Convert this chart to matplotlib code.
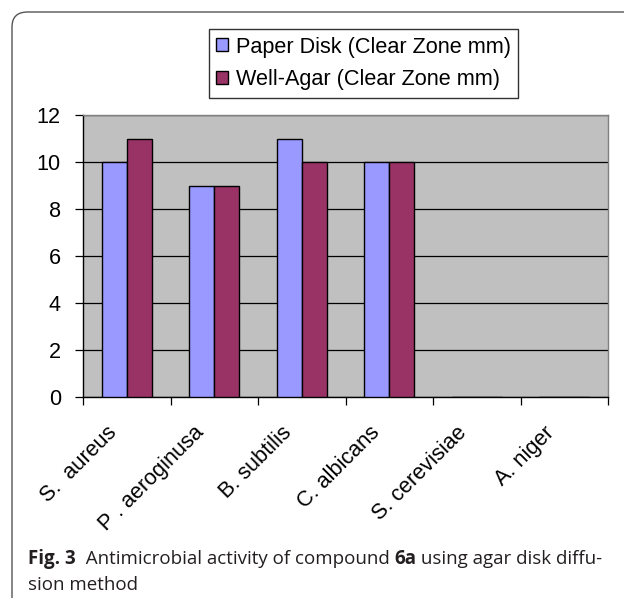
import matplotlib
matplotlib.use("Agg")
import matplotlib.pyplot as plt
import matplotlib.transforms as mtransforms
import numpy as np
from matplotlib.patches import FancyBboxPatch

plt.rcParams["font.family"] = ["Liberation Sans", "DejaVu Sans"]

# zone of inhibition (mm) per organism
organisms = ["S.  aureus", "P . aeroginusa", "B. subtilis", "C. albicans",
             "S. cerevisiae", "A. niger"]
paper_disk = [10, 9, 11, 10, 0, 0]
well_agar = [11, 9, 10, 10, 0, 0]
series_names = ["Paper Disk (Clear Zone mm)", "Well-Agar (Clear Zone mm)"]
yticks = [0, 2, 4, 6, 8, 10, 12]

caption_1 = [("Fig. 3", "bold"), ("  Antimicrobial activity of compound ", "normal"),
             ("6a", "bold"), (" using agar disk diffu-", "normal")]
caption_2 = "sion method"

BLUE = "#9999FF"
MAROON = "#993366"
PLOT_BG = "#C0C0C0"
TXT = "#231F20"
FS = 15.6

W, H = 624, 598
fig = plt.figure(figsize=(W / 100, H / 100), dpi=100)

# rounded outer frame (runs off the right and bottom edges)
frame = FancyBboxPatch((12 / W, 1 - 640 / H), 700 / W, 628 / H,
                       boxstyle="round,pad=0,rounding_size=0.025",
                       transform=fig.transFigure, fill=False,
                       edgecolor="#555555", linewidth=1.0)
fig.patches.append(frame)

ax = fig.add_axes([83 / W, 1 - 397 / H, 525 / W, 282 / H])
ax.set_facecolor(PLOT_BG)

x = np.arange(len(organisms))
w = 1 / 3.5
ax.bar(x - w / 2, paper_disk, w, color=BLUE, edgecolor="black",
       linewidth=1.0, label=series_names[0], zorder=3)
ax.bar(x + w / 2, well_agar, w, color=MAROON, edgecolor="black",
       linewidth=1.0, label=series_names[1], zorder=3)

ax.set_xlim(-0.5, len(organisms) - 0.5)
ax.set_ylim(0, 12)
ax.set_yticks(yticks)
ax.yaxis.grid(True, color="black", linewidth=0.9, zorder=1)
ax.set_axisbelow(True)

ax.set_xticks(x)
ax.set_xticklabels(organisms, rotation=45, ha="right", va="center",
                   rotation_mode="anchor", fontsize=FS)
ax.tick_params(axis="x", which="major", length=0, pad=14)
# nudge the slanted labels down-left along their own direction
shift = mtransforms.ScaledTranslation(-0.13, -0.13, fig.dpi_scale_trans)
for lbl in ax.get_xticklabels():
    lbl.set_transform(lbl.get_transform() + shift)
ax.set_xticks(np.arange(-0.5, len(organisms)), minor=True)
ax.tick_params(axis="x", which="minor", length=6, width=0.9, direction="out")
ax.tick_params(axis="y", length=6, width=0.9, labelsize=FS, pad=10)

for side in ("top", "right"):
    ax.spines[side].set_color("#808080")
for side in ("left", "bottom"):
    ax.spines[side].set_color("black")
for s in ax.spines.values():
    s.set_linewidth(1.0)

leg = fig.legend(loc="center", bbox_to_anchor=(363.5 / W, 1 - 63.5 / H),
                 fontsize=FS, frameon=True, fancybox=False, edgecolor="black",
                 handlelength=0.55, handleheight=0.55, handletextpad=0.35,
                 borderpad=0.35, borderaxespad=0, labelspacing=0.55)
leg.get_frame().set_linewidth(1.0)
for h in leg.legend_handles:
    h.set_edgecolor("black")

# caption, laid out piece by piece on the first line
renderer = fig.canvas.get_renderer()
cx = 28
for piece, weight in caption_1:
    t = fig.text(cx / W, 1 - 564 / H, piece, fontsize=13.5, fontweight=weight,
                 color=TXT, va="baseline", family="Open Sans")
    cx = t.get_window_extent(renderer).x1
fig.text(28 / W, 1 - 590 / H, caption_2, fontsize=13.5, color=TXT,
         va="baseline", family="Open Sans")

fig.savefig("out.png", dpi=100)
